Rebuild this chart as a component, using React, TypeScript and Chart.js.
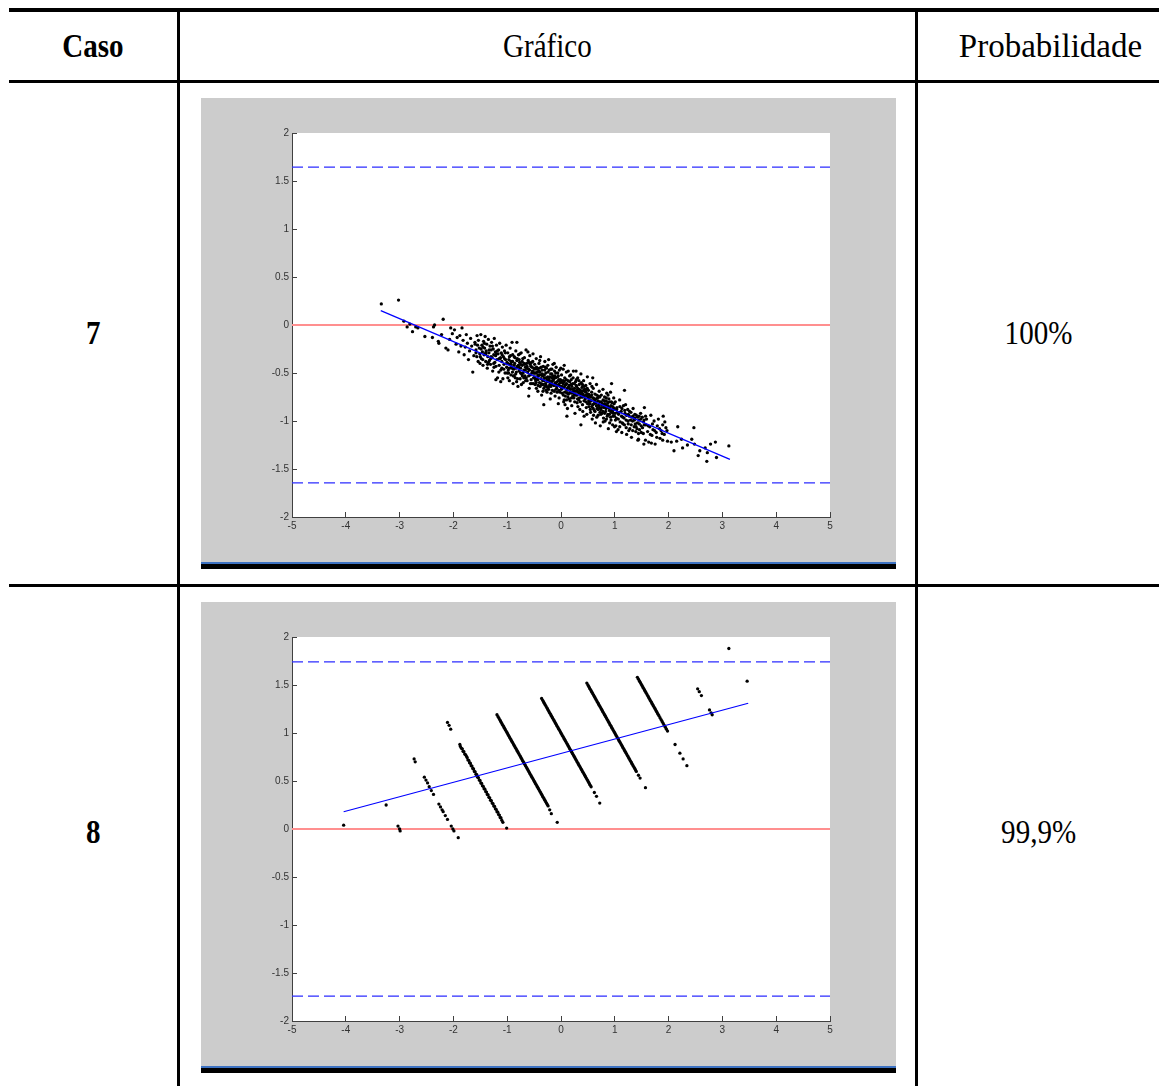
import React, { useEffect, useRef } from "react";
import { Chart, registerables } from "chart.js";

Chart.register(...registerables);

type Pt = [number, number];

// ---------- axis ticks ----------
const xTickValues = [-5, -4, -3, -2, -1, 0, 1, 2, 3, 4, 5];
const yTickValues = [-2, -1.5, -1, -0.5, 0, 0.5, 1, 1.5, 2];

// ---------- table text ----------
const headerCols = ["Caso", "Gráfico", "Probabilidade"];
const caseIds = ["7", "8"];
const caseProbabilities = ["100%", "99,9%"];

// ---------- case 7 ----------
const case7Points: Pt[] = [
  [-3.34, 0.22], [-3.02, 0.26], [-2.92, 0.04], [-2.86, -0.02], [-2.81, 0.01], [-2.76, -0.07], [-2.70, -0.02], [-2.66, -0.03], [-2.53, -0.12],
  [-2.39, -0.13], [-2.35, 0.0], [-2.37, -0.02], [-2.28, -0.17], [-2.27, -0.19], [-2.19, 0.06], [-2.22, -0.10], [-2.14, -0.24], [-2.10, -0.26], [-2.05, -0.03], [-2.07, -0.15], [-2.02, -0.09],
  [-1.98, -0.05], [-1.95, -0.20], [-1.93, -0.13], [-1.90, -0.28], [-1.88, -0.11], [-1.86, -0.22], [-1.84, -0.03], [-1.82, -0.16], [-1.80, -0.31], [-1.78, -0.23], [-1.76, -0.10], [-1.74, -0.19], [-1.72, -0.36], [-1.70, -0.27], [-1.68, -0.14], [-1.66, -0.22], [-1.64, -0.49], [-1.62, -0.32], [-1.60, -0.18], [-1.58, -0.26], [-1.56, -0.11], [-1.54, -0.38], [-1.52, -0.24], [-1.51, -0.30],
  [-1.49, -0.10], [-1.48, -0.35], [-1.47, -0.21], [-1.46, -0.28], [-1.45, -0.42], [-1.44, -0.17], [-1.43, -0.31], [-1.42, -0.24], [-1.41, -0.12], [-1.40, -0.38], [-1.39, -0.27], [-1.38, -0.20], [-1.37, -0.45], [-1.36, -0.33], [-1.35, -0.15], [-1.34, -0.29], [-1.33, -0.37], [-1.32, -0.22], [-1.31, -0.41], [-1.30, -0.26], [-1.29, -0.18], [-1.28, -0.34], [-1.27, -0.48], [-1.26, -0.25], [-1.25, -0.31], [-1.24, -0.14], [-1.23, -0.39], [-1.22, -0.28], [-1.21, -0.43], [-1.20, -0.21], [-1.19, -0.36], [-1.18, -0.55], [-1.17, -0.30], [-1.16, -0.26], [-1.15, -0.42], [-1.14, -0.19], [-1.13, -0.35], [-1.12, -0.47], [-1.11, -0.29], [-1.10, -0.38], [-1.09, -0.23], [-1.08, -0.56], [-1.07, -0.33], [-1.06, -0.41], [-1.05, -0.27], [-1.04, -0.50], [-1.03, -0.36], [-1.02, -0.21], [-1.01, -0.44], [-1.21, -0.57], [-1.12, -0.59],
  [-1.595, -0.20], [-1.565, -0.33], [-1.535, -0.16], [-1.505, -0.40], [-1.485, -0.25], [-1.455, -0.36], [-1.425, -0.19], [-1.395, -0.30], [-1.365, -0.41], [-1.335, -0.26], [-1.305, -0.35], [-1.275, -0.22], [-1.245, -0.44], [-1.215, -0.32], [-1.185, -0.27], [-1.155, -0.49], [-1.125, -0.34], [-1.095, -0.31], [-1.065, -0.46], [-1.035, -0.29], [-1.005, -0.39],
  [-1.58, -0.29], [-1.55, -0.21], [-1.50, -0.33], [-1.45, -0.23], [-1.40, -0.29], [-1.35, -0.39], [-1.30, -0.33], [-1.25, -0.40], [-1.20, -0.30], [-1.15, -0.35], [-1.10, -0.45], [-1.05, -0.35], [-1.00, -0.50],
  [-0.99, -0.29], [-0.98, -0.47], [-0.97, -0.36], [-0.96, -0.58], [-0.95, -0.41], [-0.94, -0.32], [-0.93, -0.52], [-0.92, -0.44], [-0.91, -0.18], [-0.90, -0.38], [-0.89, -0.61], [-0.88, -0.46], [-0.87, -0.33], [-0.86, -0.40], [-0.85, -0.55], [-0.84, -0.27], [-0.83, -0.49], [-0.82, -0.37], [-0.81, -0.43], [-0.80, -0.64], [-0.79, -0.31], [-0.78, -0.48], [-0.77, -0.39], [-0.76, -0.56], [-0.75, -0.45], [-0.74, -0.29], [-0.73, -0.51], [-0.72, -0.42], [-0.71, -0.35], [-0.70, -0.60], [-0.69, -0.47], [-0.68, -0.34], [-0.67, -0.53], [-0.66, -0.44], [-0.65, -0.26], [-0.64, -0.40], [-0.63, -0.58], [-0.62, -0.49], [-0.61, -0.37], [-0.60, -0.46], [-0.59, -0.66], [-0.58, -0.32], [-0.57, -0.52], [-0.56, -0.43], [-0.55, -0.39], [-0.54, -0.61], [-0.53, -0.48], [-0.52, -0.30], [-0.51, -0.55], [-0.50, -0.45],
  [-0.975, -0.50], [-0.945, -0.24], [-0.915, -0.45], [-0.885, -0.53], [-0.855, -0.34], [-0.825, -0.59], [-0.795, -0.42], [-0.765, -0.30], [-0.735, -0.62], [-0.705, -0.50], [-0.675, -0.41], [-0.645, -0.55], [-0.615, -0.28], [-0.585, -0.47], [-0.555, -0.57], [-0.525, -0.38], [-0.82, -0.18], [-0.60, -0.74],
  [-0.992, -0.40], [-0.962, -0.45], [-0.932, -0.38], [-0.902, -0.49], [-0.872, -0.42], [-0.842, -0.51], [-0.812, -0.35], [-0.782, -0.44], [-0.752, -0.50], [-0.722, -0.38], [-0.692, -0.55], [-0.662, -0.47], [-0.632, -0.43], [-0.602, -0.53], [-0.572, -0.41], [-0.542, -0.50], [-0.512, -0.61],
  [-0.988, -0.55], [-0.958, -0.33], [-0.928, -0.41], [-0.898, -0.31], [-0.868, -0.53], [-0.838, -0.45], [-0.808, -0.56], [-0.778, -0.36], [-0.748, -0.41], [-0.718, -0.53], [-0.688, -0.40], [-0.658, -0.58], [-0.628, -0.45], [-0.598, -0.39], [-0.568, -0.61], [-0.538, -0.44], [-0.508, -0.50],
  [-0.49, -0.41], [-0.48, -0.62], [-0.47, -0.50], [-0.46, -0.35], [-0.45, -0.57], [-0.44, -0.46], [-0.43, -0.69], [-0.42, -0.53], [-0.41, -0.40], [-0.40, -0.60], [-0.39, -0.49], [-0.38, -0.33], [-0.37, -0.56], [-0.36, -0.73], [-0.35, -0.47], [-0.34, -0.58], [-0.33, -0.43], [-0.32, -0.66], [-0.31, -0.52], [-0.30, -0.38], [-0.29, -0.61], [-0.28, -0.55], [-0.27, -0.45], [-0.26, -0.70], [-0.25, -0.59], [-0.24, -0.49], [-0.23, -0.36], [-0.22, -0.64], [-0.21, -0.54], [-0.20, -0.77], [-0.19, -0.46], [-0.18, -0.60], [-0.17, -0.51], [-0.16, -0.68], [-0.15, -0.41], [-0.14, -0.57], [-0.13, -0.63], [-0.12, -0.48], [-0.11, -0.74], [-0.10, -0.55], [-0.09, -0.44], [-0.08, -0.66], [-0.07, -0.59], [-0.06, -0.50], [-0.05, -0.82], [-0.04, -0.62], [-0.03, -0.47], [-0.02, -0.70], [-0.01, -0.57],
  [-0.485, -0.54], [-0.455, -0.44], [-0.425, -0.63], [-0.395, -0.37], [-0.365, -0.52], [-0.335, -0.69], [-0.305, -0.47], [-0.275, -0.63], [-0.245, -0.42], [-0.215, -0.58], [-0.185, -0.71], [-0.155, -0.53], [-0.125, -0.40], [-0.095, -0.67], [-0.065, -0.54], [-0.035, -0.76], [-0.005, -0.45],
  [-0.47, -0.58], [-0.41, -0.48], [-0.35, -0.62], [-0.29, -0.44], [-0.23, -0.67], [-0.17, -0.46], [-0.11, -0.60], [-0.05, -0.53], [-0.32, -0.83],
  [-0.492, -0.50], [-0.462, -0.60], [-0.432, -0.52], [-0.402, -0.45], [-0.372, -0.61], [-0.342, -0.53], [-0.312, -0.58], [-0.282, -0.50], [-0.252, -0.65], [-0.222, -0.56], [-0.192, -0.51], [-0.162, -0.62], [-0.132, -0.55], [-0.102, -0.61], [-0.072, -0.70], [-0.042, -0.57], [-0.012, -0.64],
  [-0.488, -0.46], [-0.458, -0.66], [-0.428, -0.57], [-0.398, -0.52], [-0.368, -0.44], [-0.338, -0.62], [-0.308, -0.55], [-0.278, -0.68], [-0.248, -0.54], [-0.218, -0.47], [-0.188, -0.64], [-0.158, -0.58], [-0.128, -0.69], [-0.098, -0.50], [-0.068, -0.63], [-0.038, -0.68], [-0.008, -0.60],
  [-0.478, -0.56], [-0.438, -0.49], [-0.388, -0.64], [-0.348, -0.51], [-0.298, -0.64], [-0.258, -0.57], [-0.208, -0.62], [-0.168, -0.55], [-0.118, -0.53], [-0.078, -0.64], [-0.028, -0.58],
  [0.01, -0.52], [0.02, -0.71], [0.03, -0.60], [0.04, -0.46], [0.05, -0.80], [0.06, -0.65], [0.07, -0.55], [0.08, -0.74], [0.09, -0.62], [0.10, -0.49], [0.11, -0.68], [0.12, -0.87], [0.13, -0.58], [0.14, -0.72], [0.15, -0.63], [0.16, -0.53], [0.17, -0.79], [0.18, -0.67], [0.19, -0.57], [0.20, -0.84], [0.21, -0.70], [0.22, -0.61], [0.23, -0.48], [0.24, -0.76], [0.25, -0.66], [0.26, -0.92], [0.27, -0.59], [0.28, -0.73], [0.29, -0.64], [0.30, -0.81], [0.31, -0.55], [0.32, -0.70], [0.33, -0.78], [0.34, -0.62], [0.35, -0.88], [0.36, -0.68], [0.37, -0.51], [0.38, -0.75], [0.39, -0.65], [0.40, -0.83], [0.41, -0.72], [0.42, -0.58], [0.43, -0.95], [0.44, -0.69], [0.45, -0.77], [0.46, -0.63], [0.47, -0.86], [0.48, -0.74], [0.49, -0.54],
  [0.015, -0.64], [0.045, -0.58], [0.075, -0.83], [0.105, -0.61], [0.135, -0.48], [0.165, -0.70], [0.195, -0.76], [0.225, -0.55], [0.255, -0.80], [0.285, -0.57], [0.315, -0.85], [0.345, -0.71], [0.375, -0.60], [0.405, -0.90], [0.435, -0.67], [0.465, -0.70], [0.495, -0.82],
  [0.06, -0.78], [0.12, -0.66], [0.18, -0.52], [0.24, -0.69], [0.30, -0.73], [0.36, -0.80], [0.42, -0.68], [0.48, -0.93], [0.06, -0.42], [0.28, -0.48], [0.11, -0.95], [0.37, -1.04],
  [0.008, -0.67], [0.038, -0.61], [0.068, -0.70], [0.098, -0.57], [0.128, -0.75], [0.158, -0.66], [0.188, -0.62], [0.218, -0.74], [0.248, -0.61], [0.278, -0.69], [0.308, -0.77], [0.338, -0.67], [0.368, -0.72], [0.398, -0.62], [0.428, -0.79], [0.458, -0.73], [0.488, -0.66],
  [0.012, -0.58], [0.042, -0.73], [0.072, -0.63], [0.102, -0.78], [0.132, -0.65], [0.162, -0.59], [0.192, -0.71], [0.222, -0.67], [0.252, -0.73], [0.282, -0.63], [0.312, -0.66], [0.342, -0.76], [0.372, -0.69], [0.402, -0.75], [0.432, -0.64], [0.462, -0.80], [0.492, -0.72],
  [0.022, -0.66], [0.062, -0.59], [0.112, -0.71], [0.152, -0.77], [0.202, -0.64], [0.242, -0.72], [0.292, -0.68], [0.332, -0.58], [0.382, -0.70], [0.422, -0.74], [0.472, -0.67],
  [0.51, -0.68], [0.52, -0.85], [0.53, -0.74], [0.54, -0.61], [0.55, -0.91], [0.56, -0.79], [0.57, -0.70], [0.58, -0.98], [0.59, -0.83], [0.60, -0.66], [0.61, -0.77], [0.62, -0.89], [0.63, -0.72], [0.64, -1.02], [0.65, -0.81], [0.66, -0.62], [0.67, -0.87], [0.68, -0.76], [0.69, -0.94], [0.70, -0.84], [0.71, -0.69], [0.72, -0.80], [0.73, -1.05], [0.74, -0.88], [0.75, -0.73], [0.76, -0.92], [0.77, -0.82], [0.78, -0.67], [0.79, -0.97], [0.80, -0.86], [0.81, -0.75], [0.82, -1.00], [0.83, -0.90], [0.84, -0.79], [0.85, -0.71], [0.86, -0.95], [0.87, -0.84], [0.88, -1.08], [0.89, -0.77], [0.90, -0.93], [0.91, -0.86], [0.92, -0.70], [0.93, -0.99], [0.94, -0.89], [0.95, -0.81], [0.96, -1.04], [0.97, -0.92], [0.98, -0.76], [0.99, -0.87],
  [0.515, -0.79], [0.545, -0.88], [0.575, -0.64], [0.605, -0.94], [0.635, -0.81], [0.665, -0.96], [0.695, -0.74], [0.725, -0.91], [0.755, -0.83], [0.785, -1.01], [0.815, -0.82], [0.845, -0.98], [0.875, -0.73], [0.905, -1.02], [0.935, -0.80], [0.965, -0.95], [0.995, -1.06], [0.59, -0.55], [0.94, -0.61],
  [0.508, -0.76], [0.538, -0.82], [0.568, -0.73], [0.598, -0.87], [0.628, -0.78], [0.658, -0.84], [0.688, -0.79], [0.718, -0.86], [0.748, -0.80], [0.778, -0.90], [0.808, -0.79], [0.838, -0.87], [0.868, -0.81], [0.898, -0.89], [0.928, -0.84], [0.958, -0.90], [0.988, -0.82],
  [0.512, -0.72], [0.542, -0.78], [0.572, -0.85], [0.602, -0.76], [0.632, -0.90], [0.662, -0.73], [0.692, -0.88], [0.722, -0.75], [0.752, -0.86], [0.782, -0.78], [0.812, -0.92], [0.842, -0.76], [0.872, -0.93], [0.902, -0.80], [0.932, -0.91], [0.962, -0.85], [0.992, -0.95],
  [0.522, -0.80], [0.562, -0.75], [0.612, -0.82], [0.652, -0.77], [0.702, -0.83], [0.742, -0.93], [0.792, -0.84], [0.832, -0.83], [0.882, -0.86], [0.922, -0.96], [0.972, -0.88],
  [1.01, -0.80], [1.03, -0.97], [1.04, -0.86], [1.06, -1.09], [1.07, -0.93], [1.09, -0.78], [1.10, -1.01], [1.12, -0.90], [1.13, -1.12], [1.15, -0.96], [1.16, -0.84], [1.18, -1.04], [1.19, -0.92], [1.21, -0.99], [1.22, -1.14], [1.24, -0.88], [1.25, -1.03], [1.27, -0.95], [1.28, -1.08], [1.30, -0.91], [1.31, -1.17], [1.33, -1.00], [1.34, -0.87], [1.36, -1.06], [1.37, -0.97], [1.39, -1.11], [1.40, -0.94], [1.42, -1.02], [1.43, -1.20], [1.45, -0.99], [1.46, -1.09], [1.48, -0.92], [1.49, -1.05],
  [1.02, -1.05], [1.08, -0.91], [1.14, -1.02], [1.20, -0.83], [1.26, -1.10], [1.32, -0.96], [1.38, -1.03], [1.44, -1.13], [1.18, -0.68], [1.03, -1.11], [1.44, -1.19],
  [1.005, -0.92], [1.035, -0.88], [1.065, -0.98], [1.095, -0.85], [1.125, -0.95], [1.155, -1.03], [1.185, -0.89], [1.215, -0.94], [1.245, -1.00], [1.275, -0.90], [1.305, -1.04], [1.335, -0.95], [1.365, -0.99], [1.395, -1.06], [1.425, -0.96], [1.455, -1.03], [1.485, -0.98], [1.515, -1.07], [1.545, -0.99], [1.575, -1.04],
  [1.012, -0.99], [1.052, -0.91], [1.092, -1.06], [1.132, -0.87], [1.172, -0.97], [1.212, -1.07], [1.252, -0.93], [1.292, -0.99], [1.332, -1.10], [1.372, -0.93], [1.412, -1.08], [1.452, -0.95], [1.492, -1.12], [1.532, -1.01], [1.572, -0.95],
  [1.51, -0.96], [1.53, -1.13], [1.55, -1.04], [1.57, -1.20], [1.59, -0.98], [1.61, -1.11], [1.63, -1.22], [1.65, -1.06], [1.67, -0.94], [1.69, -1.15], [1.71, -1.09], [1.73, -1.00], [1.75, -1.24], [1.77, -1.12], [1.79, -1.05], [1.81, -0.98], [1.84, -1.18], [1.86, -1.10], [1.89, -1.04], [1.92, -1.14], [1.95, -1.07], [1.98, -1.21],
  [1.62, -1.05], [1.66, -1.14], [1.70, -1.03], [1.74, -1.10], [1.78, -1.17], [1.83, -1.08], [1.88, -1.13], [1.93, -1.01], [1.97, -1.10],
  [1.55, -0.86], [1.90, -0.95], [1.68, -1.23], [1.54, -1.24], [1.89, -1.20],
  [2.10, -1.31], [2.15, -1.21], [2.24, -1.19], [2.26, -1.28], [2.43, -1.19], [2.48, -1.24], [2.58, -1.31], [2.68, -1.28], [2.71, -1.42], [2.72, -1.33], [2.78, -1.24], [2.87, -1.22], [2.89, -1.38], [3.12, -1.26], [2.05, -1.22], [2.35, -1.25], [2.55, -1.36], [2.17, -1.06], [2.47, -1.07],
];
const case7Fit: Pt[] = [[-3.35, 0.15], [3.14, -1.40]];
const case7Limits = [1.645, -1.645];

// ---------- case 8 ----------
const case8Points: Pt[] = [
  [-4.04, 0.04],
  [-3.25, 0.25], [-3.03, 0.03], [-3.00, 0.0], [-2.99, -0.02],
  [-2.73, 0.73], [-2.71, 0.70], [-2.54, 0.54], [-2.51, 0.51], [-2.48, 0.48], [-2.45, 0.44], [-2.41, 0.40], [-2.37, 0.36], [-2.27, 0.26], [-2.24, 0.23], [-2.21, 0.20], [-2.19, 0.18], [-2.15, 0.14], [-2.11, 0.10], [-2.04, 0.03], [-2.01, 0.0], [-1.99, -0.02], [-1.91, -0.09],
  [-2.11, 1.11], [-2.08, 1.08], [-2.05, 1.04],
  [-1.88, 0.88], [-1.87, 0.86], [-1.85, 0.84], [-1.82, 0.81], [-1.79, 0.78], [-1.76, 0.76], [-1.73, 0.72], [-1.70, 0.69], [-1.67, 0.66], [-1.64, 0.63], [-1.61, 0.60], [-1.58, 0.57], [-1.55, 0.54], [-1.52, 0.51], [-1.49, 0.48], [-1.46, 0.45], [-1.43, 0.42], [-1.40, 0.39], [-1.37, 0.36], [-1.34, 0.33], [-1.31, 0.30], [-1.28, 0.27], [-1.25, 0.24], [-1.22, 0.21], [-1.19, 0.18], [-1.16, 0.15], [-1.13, 0.12], [-1.10, 0.09], [-1.08, 0.07], [-1.01, 0.01],
  [-1.835, 0.835], [-1.805, 0.805], [-1.775, 0.775], [-1.745, 0.745], [-1.715, 0.715], [-1.685, 0.685], [-1.655, 0.655], [-1.625, 0.625], [-1.595, 0.595], [-1.565, 0.565], [-1.535, 0.535], [-1.505, 0.505], [-1.475, 0.475], [-1.445, 0.445], [-1.415, 0.415], [-1.385, 0.385], [-1.355, 0.355], [-1.325, 0.325], [-1.295, 0.295], [-1.265, 0.265], [-1.235, 0.235], [-1.205, 0.205], [-1.175, 0.175], [-1.145, 0.145], [-1.115, 0.115],
  [-1.19, 1.19], [-1.17, 1.17], [-1.14, 1.14], [-1.11, 1.11], [-1.08, 1.08], [-1.05, 1.05], [-1.02, 1.02], [-0.99, 0.99], [-0.96, 0.96], [-0.93, 0.93], [-0.90, 0.90], [-0.87, 0.87], [-0.84, 0.84], [-0.81, 0.81], [-0.78, 0.78], [-0.75, 0.75], [-0.72, 0.72], [-0.69, 0.69], [-0.66, 0.66], [-0.63, 0.63], [-0.60, 0.60], [-0.57, 0.57], [-0.54, 0.54], [-0.51, 0.51], [-0.48, 0.48], [-0.45, 0.45], [-0.42, 0.42], [-0.39, 0.39], [-0.36, 0.36], [-0.33, 0.33], [-0.30, 0.30], [-0.27, 0.27], [-0.24, 0.24], [-0.21, 0.20], [-0.18, 0.16], [-0.07, 0.07],
  [-1.155, 1.155], [-1.125, 1.125], [-1.095, 1.095], [-1.065, 1.065], [-1.035, 1.035], [-1.005, 1.005], [-0.975, 0.975], [-0.945, 0.945], [-0.915, 0.915], [-0.885, 0.885], [-0.855, 0.855], [-0.825, 0.825], [-0.795, 0.795], [-0.765, 0.765], [-0.735, 0.735], [-0.705, 0.705], [-0.675, 0.675], [-0.645, 0.645], [-0.615, 0.615], [-0.585, 0.585], [-0.555, 0.555], [-0.525, 0.525], [-0.495, 0.495], [-0.465, 0.465], [-0.435, 0.435], [-0.405, 0.405], [-0.375, 0.375], [-0.345, 0.345], [-0.315, 0.315], [-0.285, 0.285], [-0.255, 0.255],
  [-0.36, 1.36], [-0.34, 1.34], [-0.31, 1.31], [-0.28, 1.28], [-0.25, 1.25], [-0.22, 1.22], [-0.19, 1.19], [-0.16, 1.16], [-0.13, 1.13], [-0.10, 1.10], [-0.07, 1.07], [-0.04, 1.04], [-0.01, 1.01], [0.02, 0.98], [0.05, 0.95], [0.08, 0.92], [0.11, 0.89], [0.14, 0.86], [0.17, 0.83], [0.20, 0.80], [0.23, 0.77], [0.26, 0.74], [0.29, 0.71], [0.32, 0.68], [0.35, 0.65], [0.38, 0.62], [0.41, 0.59], [0.44, 0.56], [0.47, 0.53], [0.50, 0.50], [0.53, 0.47], [0.56, 0.44], [0.62, 0.38], [0.66, 0.34], [0.72, 0.27],
  [-0.325, 1.325], [-0.295, 1.295], [-0.265, 1.265], [-0.235, 1.235], [-0.205, 1.205], [-0.175, 1.175], [-0.145, 1.145], [-0.115, 1.115], [-0.085, 1.085], [-0.055, 1.055], [-0.025, 1.025], [0.005, 0.995], [0.035, 0.965], [0.065, 0.935], [0.095, 0.905], [0.125, 0.875], [0.155, 0.845], [0.185, 0.815], [0.215, 0.785], [0.245, 0.755], [0.275, 0.725], [0.305, 0.695], [0.335, 0.665], [0.365, 0.635], [0.395, 0.605], [0.425, 0.575], [0.455, 0.545], [0.485, 0.515], [0.515, 0.485], [0.545, 0.455],
  [0.48, 1.52], [0.50, 1.50], [0.53, 1.47], [0.56, 1.44], [0.59, 1.41], [0.62, 1.38], [0.65, 1.35], [0.68, 1.32], [0.71, 1.29], [0.74, 1.26], [0.77, 1.23], [0.80, 1.20], [0.83, 1.17], [0.86, 1.14], [0.89, 1.11], [0.92, 1.08], [0.95, 1.05], [0.98, 1.02], [1.01, 0.99], [1.04, 0.96], [1.07, 0.93], [1.10, 0.90], [1.13, 0.87], [1.16, 0.84], [1.19, 0.81], [1.22, 0.78], [1.25, 0.75], [1.28, 0.72], [1.31, 0.69], [1.34, 0.66], [1.37, 0.63], [1.40, 0.60], [1.44, 0.56], [1.47, 0.53], [1.57, 0.43],
  [0.515, 1.485], [0.545, 1.455], [0.575, 1.425], [0.605, 1.395], [0.635, 1.365], [0.665, 1.335], [0.695, 1.305], [0.725, 1.275], [0.755, 1.245], [0.785, 1.215], [0.815, 1.185], [0.845, 1.155], [0.875, 1.125], [0.905, 1.095], [0.935, 1.065], [0.965, 1.035], [0.995, 1.005], [1.025, 0.975], [1.055, 0.945], [1.085, 0.915], [1.115, 0.885], [1.145, 0.855], [1.175, 0.825], [1.205, 0.795], [1.235, 0.765], [1.265, 0.735], [1.295, 0.705], [1.325, 0.675], [1.355, 0.645], [1.385, 0.615],
  [1.42, 1.58], [1.44, 1.56], [1.46, 1.54], [1.49, 1.51], [1.52, 1.48], [1.55, 1.45], [1.58, 1.42], [1.61, 1.39], [1.64, 1.36], [1.67, 1.33], [1.70, 1.30], [1.73, 1.27], [1.76, 1.24], [1.79, 1.21], [1.82, 1.18], [1.86, 1.14], [1.90, 1.10], [1.94, 1.06], [1.98, 1.02], [2.12, 0.88], [2.21, 0.79], [2.27, 0.73], [2.34, 0.66],
  [1.475, 1.525], [1.505, 1.495], [1.535, 1.465], [1.565, 1.435], [1.595, 1.405], [1.625, 1.375], [1.655, 1.345], [1.685, 1.315], [1.715, 1.285], [1.745, 1.255], [1.775, 1.225], [1.805, 1.195], [1.84, 1.16], [1.88, 1.12], [1.92, 1.08], [1.96, 1.04],
  [2.54, 1.46], [2.57, 1.43], [2.61, 1.39], [2.76, 1.24], [2.79, 1.21], [2.81, 1.19],
  [3.12, 1.88], [3.46, 1.54],
];
const case8Fit: Pt[] = [[-4.04, 0.18], [3.48, 1.31]];
const case8Limits = [1.74, -1.74];

const X_MIN = -5;
const X_MAX = 5;
const Y_MIN = -2;
const Y_MAX = 2;

const tickFont = { family: "'Liberation Sans Narrow', 'Liberation Sans', Arial, sans-serif", size: 10 };

const bgPlugin = {
  id: "matlabBg",
  beforeDraw(chart: any) {
    const { ctx, chartArea: a } = chart;
    ctx.save();
    ctx.fillStyle = "#cccccc";
    ctx.fillRect(0, 0, chart.width, chart.height);
    ctx.fillStyle = "#ffffff";
    ctx.fillRect(a.left, a.top, a.right - a.left, a.bottom - a.top);
    ctx.restore();
  },
};

function Panel({ points, fit, limits }: { points: Pt[]; fit: Pt[]; limits: number[] }) {
  const ref = useRef<HTMLCanvasElement>(null);
  useEffect(() => {
    const toXY = (p: Pt[]) => p.map(([x, y]) => ({ x, y }));
    const hline = (v: number) => [{ x: X_MIN, y: v }, { x: X_MAX, y: v }];
    const lineDs = (data: any, color: string, width: number, order: number, dash: number[] = []) => ({
      data,
      showLine: true,
      borderColor: color,
      borderWidth: width,
      borderDash: dash,
      pointRadius: 0,
      pointHoverRadius: 0,
      order,
    });
    const chart = new Chart(ref.current!, {
      type: "scatter",
      data: {
        datasets: [
          lineDs(toXY(fit), "#0000ff", 1.2, 0) as any,
          {
            data: toXY(points),
            pointRadius: 1.65,
            pointBackgroundColor: "#000000",
            pointBorderWidth: 0,
            showLine: false,
            order: 1,
          },
          lineDs(hline(0), "#ff8f8f", 2, 2) as any,
          lineDs(hline(limits[0]), "#2c2cff", 1.2, 3, [11, 5]) as any,
          lineDs(hline(limits[1]), "#2c2cff", 1.2, 4, [11, 5]) as any,
        ],
      },
      options: {
        responsive: false,
        animation: false,
        devicePixelRatio: 1,
        events: [],
        layout: { padding: { left: 0, top: 35, right: 66, bottom: 0 } },
        plugins: { legend: { display: false }, tooltip: { enabled: false } },
        scales: {
          x: {
            type: "linear",
            min: X_MIN,
            max: X_MAX,
            afterBuildTicks: (s: any) => {
              s.ticks = xTickValues.map((v) => ({ value: v }));
            },
            afterFit: (s: any) => {
              s.height = 45;
              s.paddingLeft = 0;
              s.paddingRight = 0;
            },
            grid: { drawOnChartArea: false, drawTicks: true, tickLength: -5, color: "#404040", lineWidth: 1 },
            border: { display: true, color: "#404040", width: 1 },
            ticks: { padding: 8, color: "#333333", font: tickFont, maxRotation: 0, autoSkip: false, callback: (v: any) => String(v) },
          },
          y: {
            type: "linear",
            min: Y_MIN,
            max: Y_MAX,
            afterBuildTicks: (s: any) => {
              s.ticks = yTickValues.map((v) => ({ value: v }));
            },
            afterFit: (s: any) => {
              s.width = 91;
              s.paddingTop = 0;
              s.paddingBottom = 0;
            },
            grid: { drawOnChartArea: false, drawTicks: true, tickLength: -5, color: "#404040", lineWidth: 1 },
            border: { display: true, color: "#404040", width: 1 },
            ticks: { padding: 8, color: "#333333", font: tickFont, autoSkip: false, callback: (v: any) => String(v) },
          },
        },
      } as any,
      plugins: [bgPlugin],
    });
    return () => chart.destroy();
  }, [points, fit, limits]);

  return (
    <div style={{ width: 695 }}>
      <canvas ref={ref} width={695} height={464} style={{ display: "block", width: 695, height: 464 }} />
      <div style={{ height: 2, background: "#3d72c2" }} />
      <div style={{ height: 5, background: "#000" }} />
    </div>
  );
}

const serif = "'Liberation Serif', 'Times New Roman', serif";

function Cell({ left, top, width, height, text, bold, sx = 0.88, shift = 0 }: { left: number; top: number; width: number; height: number; text: string; bold?: boolean; sx?: number; shift?: number }) {
  return (
    <div
      style={{
        position: "absolute",
        left,
        top,
        width,
        height,
        display: "flex",
        alignItems: "center",
        justifyContent: "center",
        fontFamily: serif,
        fontSize: 33,
        fontWeight: bold ? 700 : 400,
        color: "#000",
      }}
    >
      <span style={{ display: "inline-block", transform: `translateX(${shift}px) scaleX(${sx})`, lineHeight: 1, whiteSpace: "nowrap" }}>{text}</span>
    </div>
  );
}

const line = (left: number, top: number, width: number, height: number) => (
  <div style={{ position: "absolute", left, top, width, height, background: "#000" }} />
);

export default function App() {
  return (
    <div style={{ position: "absolute", left: 0, top: 0, width: 1159, height: 1086, background: "#fff", overflow: "hidden" }}>
      {line(9, 8, 1150, 4)}
      {line(9, 80, 1150, 3)}
      {line(9, 584, 1150, 3)}
      {line(177, 8, 3, 1078)}
      {line(915, 8, 3, 1078)}

      <Cell left={9} top={12} width={168} height={68} text={headerCols[0]} bold />
      <Cell left={180} top={12} width={735} height={68} text={headerCols[1]} />
      <Cell left={918} top={12} width={241} height={68} text={headerCols[2]} sx={1.0} shift={12} />

      <Cell left={9} top={83} width={168} height={501} text={caseIds[0]} bold />
      <Cell left={918} top={83} width={241} height={501} text={caseProbabilities[0]} />
      <Cell left={9} top={587} width={168} height={490} text={caseIds[1]} bold />
      <Cell left={918} top={587} width={241} height={490} text={caseProbabilities[1]} />

      <div style={{ position: "absolute", left: 201, top: 98 }}>
        <Panel points={case7Points} fit={case7Fit} limits={case7Limits} />
      </div>
      <div style={{ position: "absolute", left: 201, top: 602 }}>
        <Panel points={case8Points} fit={case8Fit} limits={case8Limits} />
      </div>
    </div>
  );
}
